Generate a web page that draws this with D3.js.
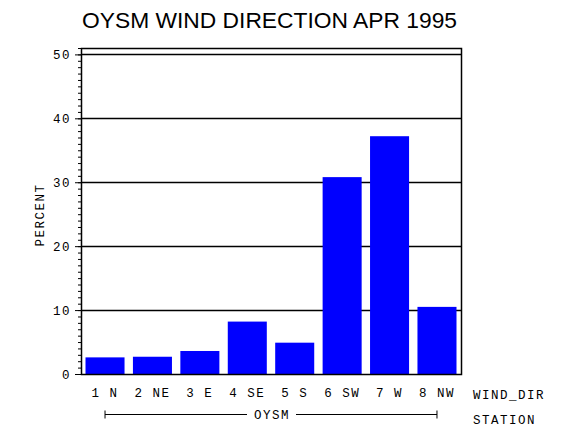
<!DOCTYPE html>
<html>
<head>
<meta charset="utf-8">
<script src="https://cdn.jsdelivr.net/npm/d3@7"></script>
<style>
  body { margin: 0; background: #fff; }
  svg { display: block; background: #fff; }
  .lbl { font-family: "Liberation Mono", "DejaVu Sans Mono", monospace; font-size: 12.5px; letter-spacing: 1.5px; fill: #000; }
  .title { font-family: "Liberation Sans", Arial, sans-serif; font-size: 22px; fill: #000; }
</style>
</head>
<body>
<div id="chart"></div>
<script>
// data
var title = "OYSM WIND DIRECTION APR 1995";
var categories = ["1 N", "2 NE", "3 E", "4 SE", "5 S", "6 SW", "7 W", "8 NW"];
var percent = [2.6, 2.7, 3.6, 8.2, 4.9, 30.8, 37.2, 10.5];
var yTicks = [0, 10, 20, 30, 40, 50];
var station = "OYSM";

var W = 570, H = 430;
var margin = { top: 48, left: 81, right: 109, bottom: 56 };
var width = W - margin.left - margin.right;
var height = H - margin.top - margin.bottom;

var svg = d3.select("#chart").append("svg")
    .attr("width", W)
    .attr("height", H);

var g = svg.append("g")
    .attr("transform", "translate(" + margin.left + "," + margin.top + ")");

var x = d3.scaleBand()
    .domain(categories)
    .range([0, width])
    .paddingInner(0.177)
    .paddingOuter(0.095);

var y = d3.scaleLinear()
    .domain([0, 51])
    .range([height, 0]);

// grid lines
g.selectAll("line.grid")
    .data(yTicks.filter(function (d) { return d > 0; }))
    .enter().append("line")
    .attr("class", "grid")
    .attr("x1", 0).attr("x2", width)
    .attr("y1", function (d) { return Math.round(y(d)) + 0.5; })
    .attr("y2", function (d) { return Math.round(y(d)) + 0.5; })
    .attr("stroke", "#000")
    .attr("stroke-width", 1.5);

// bars
g.selectAll("rect.bar")
    .data(percent)
    .enter().append("rect")
    .attr("class", "bar")
    .attr("x", function (d, i) { return x(categories[i]); })
    .attr("y", function (d) { return y(d); })
    .attr("width", x.bandwidth())
    .attr("height", function (d) { return height - y(d); })
    .attr("fill", "#0000ff");

// frame
g.append("rect")
    .attr("x", 0.5).attr("y", 0.5)
    .attr("width", width).attr("height", height)
    .attr("fill", "none")
    .attr("stroke", "#000")
    .attr("stroke-width", 1.5);

// y axis, major + minor ticks
var yAxis = d3.axisLeft(y)
    .tickValues(yTicks)
    .tickSize(6)
    .tickPadding(4)
    .tickFormat(d3.format("d"));

var yAx = g.append("g").call(yAxis);
yAx.select(".domain").remove();
yAx.selectAll("text").attr("class", "lbl").attr("font-family", null).attr("font-size", null);

g.append("g").call(d3.axisLeft(y).tickValues(d3.range(0, 52, 1)).tickSize(3).tickFormat(""))
    .select(".domain").remove();

// x labels
var xAx = g.append("g")
    .attr("transform", "translate(0," + height + ")")
    .call(d3.axisBottom(x).tickSize(0).tickPadding(14));
xAx.select(".domain").remove();
xAx.selectAll("text").attr("class", "lbl").attr("font-family", null).attr("font-size", null);

g.append("text").attr("class", "lbl")
    .attr("x", width + 12).attr("y", height + 25)
    .text("WIND_DIR");

g.append("text").attr("class", "lbl")
    .attr("x", width + 12).attr("y", height + 50)
    .text("STATION");

// station bracket
var bx0 = x(categories[0]) + x.bandwidth() / 2;
var bx1 = x(categories[categories.length - 1]) + x.bandwidth() / 2;
var by = height + 40.5;
var mid = (bx0 + bx1) / 2;
var bracket = g.append("g").attr("stroke", "#000").attr("stroke-width", 1);
bracket.append("line").attr("x1", bx0).attr("x2", mid - 24).attr("y1", by).attr("y2", by);
bracket.append("line").attr("x1", mid + 25).attr("x2", bx1).attr("y1", by).attr("y2", by);
bracket.append("line").attr("x1", bx0).attr("x2", bx0).attr("y1", by - 4).attr("y2", by + 4);
bracket.append("line").attr("x1", bx1).attr("x2", bx1).attr("y1", by - 4).attr("y2", by + 4);
g.append("text").attr("class", "lbl")
    .attr("x", mid + 1).attr("y", by + 4)
    .attr("text-anchor", "middle")
    .text(station);

// y label
g.append("text").attr("class", "lbl")
    .attr("transform", "translate(-37," + (height / 2 + 4) + ") rotate(-90)")
    .attr("text-anchor", "middle")
    .text("PERCENT");

// title
svg.append("text").attr("class", "title")
    .attr("x", margin.left + 1).attr("y", 28)
    .attr("textLength", 375)
    .attr("lengthAdjust", "spacingAndGlyphs")
    .text(title);
</script>
</body>
</html>
